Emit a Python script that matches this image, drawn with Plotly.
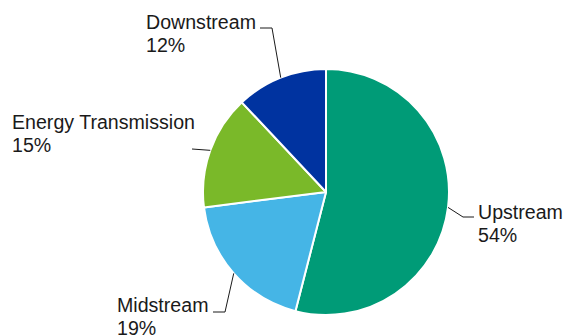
import math
import plotly.graph_objects as go

labels = ["Upstream", "Midstream", "Energy Transmission", "Downstream"]
values = [54, 19, 15, 12]
pct_text = ["54%", "19%", "15%", "12%"]
colors = ["#009B77", "#45B5E6", "#7AB929", "#0033A0"]

W, H = 565, 335
CX, CY, R = 326, 192, 123

fig = go.Figure(go.Pie(
    labels=labels, values=values, sort=False, direction="clockwise", rotation=0,
    marker=dict(colors=colors, line=dict(color="white", width=2)),
    textinfo="none", hoverinfo="label+percent", showlegend=False,
    domain=dict(x=[(CX - R) / W, (CX + R) / W], y=[(H - CY - R) / H, (H - CY + R) / H]),
))

# label layout: (text x, line1 y, line2 y, elbow points after the edge point)
label_layout = {
    "Upstream": (476, 212, 235, [(463, 217), (474, 217)]),
    "Midstream": (115, 305, 328, [(225, 312), (213, 312)]),
    "Energy Transmission": (10, 122, 145, [(192, 149)]),
    "Downstream": (144, 22, 45, [(272, 28), (260, 28)]),
}

def px(x):
    return x / W

def py(y):
    return 1 - y / H

total = sum(values)
cum = 0
annotations = []
shapes = []
for lab, v, pt in zip(labels, values, pct_text):
    mid = (cum + v / 2) / total * 2 * math.pi
    cum += v
    ex = CX + R * math.sin(mid)
    ey = CY - R * math.cos(mid)
    tx, y1, y2, elbows = label_layout[lab]
    pts = [(ex, ey)] + elbows
    for (xa, ya), (xb, yb) in zip(pts[:-1], pts[1:]):
        shapes.append(dict(type="line", xref="paper", yref="paper",
                           x0=px(xa), y0=py(ya), x1=px(xb), y1=py(yb),
                           line=dict(color="#1a1a1a", width=1)))
    for txt, yy in ((lab, y1), (pt, y2)):
        annotations.append(dict(text=txt, xref="paper", yref="paper", x=px(tx), y=py(yy),
                                xanchor="left", yanchor="middle", showarrow=False,
                                font=dict(family="Liberation Sans, Arial, sans-serif", size=19.6, color="#1a1a1a")))

fig.update_layout(
    width=W, height=H, margin=dict(l=0, r=0, t=0, b=0),
    paper_bgcolor="white", plot_bgcolor="white",
    annotations=annotations, shapes=shapes,
)
fig.write_html("out.html")
